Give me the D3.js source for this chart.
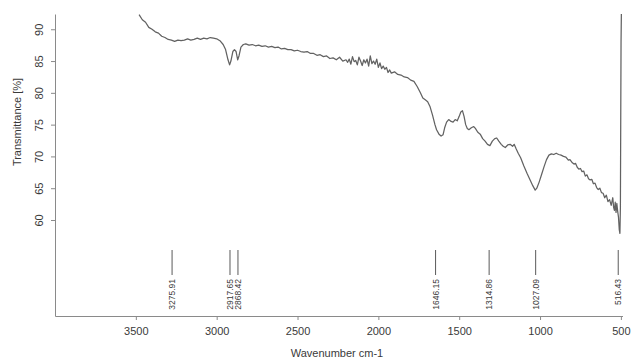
<!DOCTYPE html>
<html><head><meta charset="utf-8">
<script src="https://cdn.jsdelivr.net/npm/d3@7"></script>
<style>body{margin:0;background:#fff}svg{display:block}</style>
</head><body>
<svg id="c" width="631" height="360"></svg>
<script>
const wavenumbers = [3480,3460,3440,3420,3400,3380,3360,3340,3320,3300,3280,3260,3240,3220,3200,3180,3160,3140,3120,3100,3080,3060,3040,3020,3000,2980,2960,2945,2930,2920,2912,2900,2890,2880,2870,2862,2850,2835,2820,2800,2780,2760,2740,2720,2700,2680,2660,2640,2620,2600,2580,2560,2540,2520,2500,2480,2460,2440,2420,2400,2380,2360,2340,2320,2300,2280,2260,2240,2220,2200,2190,2180,2170,2160,2150,2140,2130,2120,2110,2100,2090,2080,2070,2060,2050,2040,2030,2020,2010,2000,1990,1980,1970,1960,1950,1940,1930,1920,1900,1880,1860,1840,1820,1800,1780,1760,1740,1725,1710,1695,1680,1665,1650,1640,1625,1612,1600,1590,1578,1565,1550,1538,1525,1512,1500,1490,1480,1470,1460,1450,1440,1425,1410,1400,1385,1370,1355,1340,1325,1310,1295,1280,1268,1255,1240,1228,1215,1200,1185,1170,1160,1148,1135,1120,1100,1080,1060,1045,1030,1020,1005,990,975,960,945,930,915,900,885,870,855,840,825,815,800,790,780,770,760,750,740,730,720,710,700,690,680,670,660,650,640,630,620,610,600,590,580,570,560,550,545,540,535,530,525,520,515,510,506,503,501,499,497];
const transmittance = [92.3,91.5,91.1,90.3,90.0,89.6,89.4,88.9,88.7,88.4,88.3,88.1,88.3,88.2,88.3,88.5,88.3,88.4,88.6,88.4,88.6,88.5,88.7,88.6,88.5,88.2,87.6,86.8,85.2,84.4,85.0,86.5,86.8,86.5,85.2,85.8,87.2,87.6,87.7,87.5,87.6,87.4,87.5,87.3,87.4,87.2,87.3,87.1,87.2,86.9,87.0,86.8,86.8,86.6,86.7,86.5,86.4,86.5,86.2,86.2,85.9,86.0,85.7,85.8,85.4,85.5,85.2,85.6,85.0,85.2,84.8,85.3,84.5,85.7,84.9,85.1,84.4,85.6,85.0,84.3,85.2,84.7,85.3,84.2,85.8,84.6,85.0,84.5,85.3,84.0,84.7,83.8,84.2,83.7,84.0,83.2,83.6,83.1,83.3,82.9,82.8,82.5,82.4,82.0,81.8,81.0,80.0,79.2,78.9,78.6,77.8,76.5,75.0,74.2,73.5,73.2,73.4,74.5,75.4,75.8,75.5,75.4,75.8,75.6,76.3,77.0,77.2,76.3,75.0,74.4,74.2,74.5,74.7,74.4,73.8,73.5,72.8,72.4,71.9,71.7,72.4,72.8,72.9,72.4,71.9,71.6,71.4,71.8,71.9,71.6,71.9,71.2,70.5,69.8,68.5,67.3,66.2,65.4,64.7,65.0,66.0,67.2,68.4,69.5,70.2,70.4,70.3,70.5,70.3,70.2,70.0,69.9,69.4,69.5,69.0,68.8,68.9,68.3,68.0,68.1,67.6,67.7,66.9,67.1,66.5,66.3,66.4,65.7,65.8,65.1,64.8,65.0,64.3,64.2,63.5,63.9,62.9,63.2,62.3,63.5,62.0,61.5,62.8,61.2,62.6,61.4,60.5,58.5,57.9,62.0,75.0,88.0,92.4];
const peakPositions = [3275.91, 2917.65, 2868.42, 1646.15, 1314.86, 1027.09, 516.43];
const peakLabels = ["3275.91", "2917.65", "2868.42", "1646.15", "1314.86", "1027.09", "516.43"];
const xTicks = [3500, 3000, 2500, 2000, 1500, 1000, 500];
const yTicks = [60, 65, 70, 75, 80, 85, 90];

const svg = d3.select("#c");
const x = d3.scaleLinear().domain([4000, 490]).range([55, 622.5]);
const y = d3.scaleLinear().domain([44.9, 92.4]).range([316, 14]);
const axisCol = "#8a8a8a", textCol = "#3a3a3a";
const font = "Liberation Sans, Arial, sans-serif";

const gx = svg.append("g").attr("transform", "translate(0,316)")
  .call(d3.axisBottom(x).tickValues(xTicks).tickSize(4).tickSizeOuter(0).tickFormat(d3.format("d")));
gx.select(".domain").attr("stroke", axisCol);
gx.selectAll(".tick line").attr("stroke", axisCol);
gx.selectAll(".tick text").attr("fill", textCol).attr("font-family", font).attr("font-size", 11).attr("dy", "1.05em");

const gy = svg.append("g").attr("transform", "translate(55,0)")
  .call(d3.axisLeft(y).tickValues(yTicks).tickSize(4).tickSizeOuter(0));
gy.select(".domain").attr("stroke", axisCol);
gy.selectAll(".tick line").attr("stroke", axisCol);
gy.selectAll(".tick text").attr("fill", textCol).attr("font-family", font).attr("font-size", 11)
  .attr("x", null).attr("dy", null)
  .attr("text-anchor", "middle")
  .attr("transform", "translate(-16,0) rotate(-90)")
  .attr("dy", "0.35em");

svg.append("text").attr("x", 337).attr("y", 357).attr("text-anchor", "middle")
  .attr("font-family", font).attr("font-size", 11).attr("fill", textCol).text("Wavenumber cm-1");
svg.append("text").attr("transform", "translate(17,122) rotate(-90)").attr("text-anchor", "middle")
  .attr("dy", "0.35em").attr("font-family", font).attr("font-size", 11).attr("fill", textCol).text("Transmittance [%]");

const pts = wavenumbers.map((w, i) => [w, transmittance[i]]);
svg.append("path").datum(pts)
  .attr("fill", "none").attr("stroke", "#626262").attr("stroke-width", 1.25).attr("stroke-linejoin", "round")
  .attr("d", d3.line().x(d => x(d[0])).y(d => y(d[1])));

const pk = svg.append("g");
peakPositions.forEach((p, i) => {
  pk.append("line").attr("x1", x(p)).attr("x2", x(p)).attr("y1", 250).attr("y2", 275)
    .attr("stroke", "#5a5a5a").attr("stroke-width", 1);
  pk.append("text").attr("transform", `translate(${x(p)},279) rotate(-90)`)
    .attr("text-anchor", "end").attr("dy", "0.35em")
    .attr("font-family", font).attr("font-size", 8.5).attr("fill", textCol).text(peakLabels[i]);
});
</script>
</body></html>
